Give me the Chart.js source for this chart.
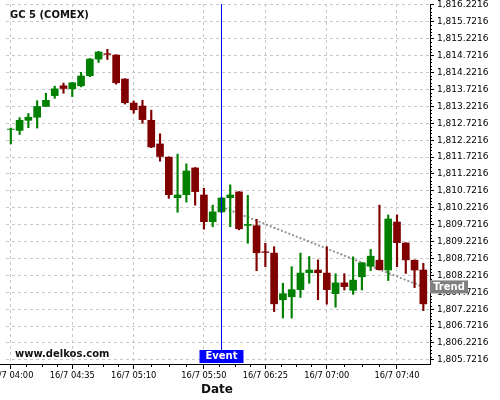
<!DOCTYPE html>
<html><head><meta charset="utf-8">
<script src="https://cdn.jsdelivr.net/npm/chart.js@4"></script>
<style>html,body{margin:0;padding:0;background:#fff}#wrap{width:500px;height:400px}</style>
</head><body><div id="wrap"><canvas id="c" width="500" height="400"></canvas></div>
<script>
const times = ["16/7 04:00","16/7 04:05","16/7 04:10","16/7 04:15","16/7 04:20","16/7 04:25","16/7 04:30","16/7 04:35","16/7 04:40","16/7 04:45","16/7 04:50","16/7 04:55","16/7 05:00","16/7 05:05","16/7 05:10","16/7 05:15","16/7 05:20","16/7 05:25","16/7 05:30","16/7 05:35","16/7 05:40","16/7 05:45","16/7 05:50","16/7 05:55","16/7 06:00","16/7 06:05","16/7 06:10","16/7 06:15","16/7 06:20","16/7 06:25","16/7 06:30","16/7 06:35","16/7 06:40","16/7 06:45","16/7 06:50","16/7 06:55","16/7 07:00","16/7 07:05","16/7 07:10","16/7 07:15","16/7 07:20","16/7 07:25","16/7 07:30","16/7 07:35","16/7 07:40","16/7 07:45","16/7 07:50","16/7 07:55"];
const opens  = [1812.54,1812.51,1812.81,1812.90,1813.22,1813.54,1813.83,1813.74,1813.83,1814.13,1814.62,1814.78,1814.74,1814.03,1813.32,1813.23,1812.81,1812.11,1811.72,1810.52,1810.61,1811.40,1810.60,1809.81,1810.10,1810.52,1810.69,1809.70,1809.69,1808.92,1808.88,1807.50,1807.59,1807.80,1808.30,1808.38,1808.29,1807.68,1808.00,1807.78,1808.18,1808.49,1808.67,1808.38,1809.80,1809.18,1808.67,1808.38];
const highs  = [1812.58,1812.89,1813.01,1813.39,1813.61,1813.82,1813.91,1813.93,1814.23,1814.64,1814.85,1814.91,1814.75,1814.04,1813.38,1813.40,1813.11,1812.41,1811.73,1811.81,1811.52,1811.41,1810.80,1810.30,1810.53,1810.90,1810.70,1810.59,1809.88,1809.17,1809.07,1807.99,1808.48,1808.88,1808.78,1808.68,1809.07,1808.27,1808.27,1808.77,1808.60,1808.99,1810.30,1810.01,1810.01,1809.19,1808.68,1808.58];
const lows   = [1812.11,1812.39,1812.59,1812.58,1813.22,1813.46,1813.61,1813.51,1813.80,1814.10,1814.52,1814.61,1813.88,1813.29,1813.02,1812.72,1812.00,1811.60,1810.50,1810.09,1810.39,1810.30,1809.59,1809.66,1810.08,1809.66,1809.57,1809.17,1808.36,1808.48,1807.15,1806.96,1806.96,1807.57,1807.99,1807.50,1807.37,1807.28,1807.79,1807.66,1807.79,1808.36,1808.38,1808.07,1808.48,1808.28,1807.86,1807.18];
const closes = [1812.55,1812.81,1812.90,1813.22,1813.40,1813.74,1813.75,1813.92,1814.12,1814.62,1814.83,1814.76,1813.92,1813.33,1813.12,1812.83,1812.02,1811.74,1810.61,1810.60,1811.31,1810.70,1809.81,1810.10,1810.51,1810.60,1809.60,1809.73,1808.89,1808.90,1807.38,1807.68,1807.80,1808.29,1808.38,1808.30,1807.80,1808.00,1807.89,1808.08,1808.59,1808.79,1808.39,1809.89,1809.19,1808.68,1808.38,1807.38];
const xTickLabels = ["16/7 04:00","16/7 04:35","16/7 05:10","16/7 05:50","16/7 06:25","16/7 07:00","16/7 07:40"];
const yTicks = [1805.7216,1806.2216,1806.7216,1807.2216,1807.7216,1808.2216,1808.7216,1809.2216,1809.7216,1810.2216,1810.7216,1811.2216,1811.7216,1812.2216,1812.7216,1813.2216,1813.7216,1814.2216,1814.7216,1815.2216,1815.7216,1816.2216];
const trendTimes = ["16/7 06:00","16/7 07:55"];
const trendValues = [1810.25,1807.88];
const eventTime = "16/7 06:00";
const titleText = "GC 5 (COMEX)";
const watermark = "www.delkos.com";

const UP = '#008000', DOWN = '#800000';
const FONT = 'DejaVu Sans';
const candleColors = opens.map((o,i) => closes[i] >= o ? UP : DOWN);

const overlay = {
  id: 'overlay',
  beforeDraw(chart){
    const ctx = chart.ctx; ctx.save(); ctx.fillStyle='#fff'; ctx.fillRect(0,0,chart.width,chart.height); ctx.restore();
  },
  beforeDatasetsDraw(chart){
    const {ctx} = chart;
    ctx.save();
    ctx.fillStyle = '#111';
    ctx.font = 'bold 10px ' + FONT;
    ctx.textBaseline = 'middle'; ctx.textAlign = 'left';
    ctx.fillText(titleText, 10, 15.5);
    ctx.fillText(watermark, 15, 354);
    ctx.restore();
  },
  afterDraw(chart){
    const {ctx, chartArea:ca, scales:{x, y}} = chart;
    ctx.save();
    ctx.strokeStyle = '#000'; ctx.lineWidth = 1;
    ctx.beginPath();
    const by = Math.round(ca.bottom) + 0.5;
    ctx.moveTo(0, by); ctx.lineTo(ca.left, by);
    for (let k = 0; k < yTicks.length - 1; k++) {
      for (let m = 1; m < 5; m++) {
        const v = yTicks[k] + (yTicks[k+1] - yTicks[k]) * m / 5;
        const py = Math.round(y.getPixelForValue(v)) + 0.5;
        ctx.moveTo(ca.right, py); ctx.lineTo(ca.right + 2, py);
      }
    }
    const idx = xTickLabels.map(l => times.indexOf(l));
    for (let k = 0; k < idx.length - 1; k++) {
      for (let m = 1; m < 4; m++) {
        const v = idx[k] + (idx[k+1] - idx[k]) * m / 4;
        const px = Math.round(x.getPixelForValue(v)) + 0.5;
        ctx.moveTo(px, ca.bottom); ctx.lineTo(px, ca.bottom + 3);
      }
    }
    ctx.stroke();
    const ex = Math.round(x.getPixelForValue(times.indexOf(eventTime))) + 0.5;
    ctx.strokeStyle = '#0000ff'; ctx.lineWidth = 1;
    ctx.beginPath(); ctx.moveTo(ex, ca.top); ctx.lineTo(ex, ca.bottom - 14); ctx.stroke();
    ctx.fillStyle = '#0000ff';
    ctx.fillRect(ex - 22, ca.bottom - 14, 44, 13);
    ctx.fillStyle = '#fff'; ctx.font = 'bold 10px ' + FONT;
    ctx.textAlign = 'center'; ctx.textBaseline = 'middle';
    ctx.fillText('Event', ex, ca.bottom - 7.3);
    const ty = y.getPixelForValue(trendValues[1]);
    ctx.fillStyle = '#808080';
    ctx.fillRect(ca.right, ty - 6.5, 38, 13);
    ctx.fillStyle = '#fff';
    ctx.fillText('Trend', ca.right + 19, ty + 0.3);
    ctx.restore();
  }
};

new Chart(document.getElementById('c'), {
  type: 'bar',
  data: {
    datasets: [
      {
        label: 'body', order: 0, grouped: false, barThickness: 7, borderWidth: 0,
        backgroundColor: candleColors,
        data: times.map((t,i) => ({x: i, y: [opens[i], closes[i]]}))
      },
      {
        label: 'wick', order: 1, grouped: false, barThickness: 1.5, borderWidth: 0,
        backgroundColor: candleColors,
        data: times.map((t,i) => ({x: i, y: [lows[i], highs[i]]}))
      },
      {
        type: 'line', label: 'Trend', order: 2,
        borderColor: 'rgba(128,128,128,0.85)', borderWidth: 2, borderDash: [2,2],
        pointRadius: 0, fill: false,
        data: trendTimes.map((t,i) => ({x: times.indexOf(t), y: trendValues[i]}))
      }
    ]
  },
  options: {
    responsive: false, animation: false, devicePixelRatio: 1,
    layout: {padding: {left: 6, top: 4, right: 0, bottom: 0}},
    plugins: {legend: {display: false}, tooltip: {enabled: false}},
    scales: {
      x: {
        type: 'linear', min: -0.55, max: 47.76, offset: false,
        grid: {color: '#c8c8c8', lineWidth: 1, drawTicks: true, tickLength: 5, tickColor: '#000', offset: false},
        border: {display: true, color: '#000', width: 1, dash: [3,3]},
        ticks: {color: '#000', font: {family: FONT, size: 8.3}, maxRotation: 0, autoSkip: false, padding: 2,
          callback: v => times[v] ?? ''},
        afterBuildTicks: s => { s.ticks = xTickLabels.map(l => ({value: times.indexOf(l)})); },
        afterFit: s => { s.height = 36; s.paddingLeft = 0; s.paddingRight = 0; },
        title: {display: false}
      },
      y: {
        type: 'linear', position: 'right', min: 1805.60, max: 1816.25,
        grid: {color: '#c8c8c8', lineWidth: 1, drawTicks: true, tickLength: 4, tickColor: '#000'},
        border: {display: true, color: '#000', width: 1, dash: [3,3]},
        ticks: {color: '#000', font: {family: FONT, size: 9}, padding: 3,
          callback: v => Number(v).toLocaleString('en-US', {minimumFractionDigits: 4, maximumFractionDigits: 4})},
        afterBuildTicks: s => { s.ticks = yTicks.map(v => ({value: v})); },
        afterFit: s => { s.width = 70; s.paddingTop = 0; s.paddingBottom = 0; }
      }
    }
  },
  plugins: [overlay, {
    id: 'xtitle',
    afterDraw(chart){
      const {ctx, chartArea:ca} = chart;
      ctx.save(); ctx.fillStyle = '#111'; ctx.font = 'bold 12px ' + FONT;
      ctx.textAlign = 'center'; ctx.textBaseline = 'middle';
      ctx.fillText('Date', (ca.left + ca.right) / 2 - 1, 390);
      ctx.restore();
    }
  }]
});
</script>
</body></html>
